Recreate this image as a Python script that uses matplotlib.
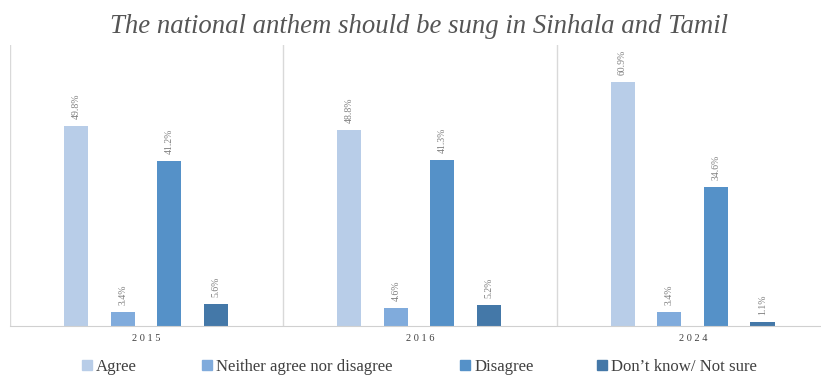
import numpy as np
import matplotlib.pyplot as plt
from matplotlib.patches import Patch

years = ['2015', '2016', '2024']
responses = ['Agree', 'Neither agree nor disagree', 'Disagree', 'Don\u2019t know/ Not sure']
agree = [49.8, 48.8, 60.9]
neither = [3.4, 4.6, 3.4]
disagree = [41.2, 41.3, 34.6]
dont_know = [5.6, 5.2, 1.1]
colors = ['#B8CDE8', '#80ABDC', '#5591C8', '#4478A8']

series = [agree, neither, disagree, dont_know]

plt.rcParams['font.family'] = ['Liberation Serif', 'DejaVu Serif']

fig = plt.figure(figsize=(8.21, 3.77), dpi=100)
ax = fig.add_axes([10/821, 51/377, 820/821, 281/377])

x = np.arange(len(years))
offsets = [-0.256, -0.085, 0.085, 0.256]
width = 0.088
for vals, off, c in zip(series, offsets, colors):
    bars = ax.bar(x + off - 0.003, vals, width, color=c, zorder=2)
    for b, v in zip(bars, vals):
        ax.annotate(f'{v:.1f}%', (b.get_x() + b.get_width()/2, v),
                    xytext=(0, 5), textcoords='offset points',
                    rotation=90, ha='center', va='bottom',
                    fontsize=7, color='#7f7f7f')

ax.set_xlim(-0.5, 2.5)
ax.set_ylim(0, 70)
ax.set_yticks([])
ax.set_xticks(x)
ax.set_xticklabels(['2 0 1 5', '2 0 1 6', '2 0 2 4'], fontsize=7.5, color='#404040')
ax.tick_params(axis='x', length=0, pad=6)

# separators between year groups
for sep in [-0.5, 0.5, 1.5]:
    ax.axvline(sep, color='#d9d9d9', lw=1, zorder=1)

for s in ['top', 'right', 'left']:
    ax.spines[s].set_visible(False)
ax.spines['bottom'].set_color('#d0d0d0')

fig.text(0.51, 0.93, 'The national anthem should be sung in Sinhala and Tamil',
         ha='center', va='center', fontsize=19.3, style='italic', color='#555555')

# legend entries placed one by one
legend_x = [82, 202, 460, 597]
for c, lab, lx in zip(colors, responses, legend_x):
    fig.legend([Patch(color=c)], [lab], loc='center left',
               bbox_to_anchor=(lx/821, 1 - 367/377), frameon=False,
               fontsize=12.1, handlelength=0.6, handleheight=0.6,
               handletextpad=0.25, borderpad=0, borderaxespad=0,
               labelcolor='#404040')

fig.savefig('out.png', dpi=100)
